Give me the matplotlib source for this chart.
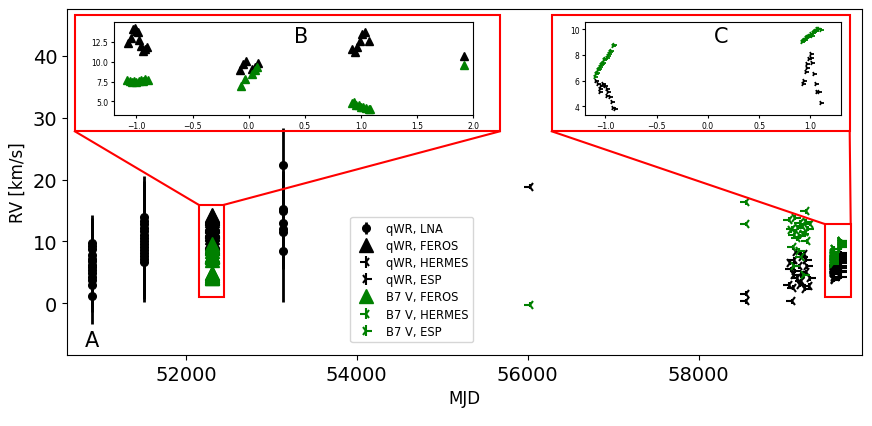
import matplotlib
matplotlib.use("Agg")
import matplotlib.pyplot as plt
from matplotlib.patches import Rectangle
import numpy as np

# ---------------- data ----------------
# LNA (qWR) : MJD, RV, error
lna_mjd = [50906]*14 + [51506]*15 + [53141]*7
lna_rv = [9.8, 9.3, 8.8, 7.8, 7.2, 6.8, 6.2, 5.8, 5.3, 4.8, 4.3, 3.8, 3.0, 1.1,
          14.0, 13.3, 12.8, 12.2, 11.6, 11.1, 10.6, 10.1, 9.6, 9.1, 8.6, 8.1, 7.6, 7.1, 6.6,
          22.4, 15.3, 14.9, 13.0, 12.0, 11.5, 8.5]
lna_err = [4.5]*14 + [6.5]*15 + [6.0, 6.0, 6.0, 6.0, 6.0, 6.0, 8.4]

# FEROS: phase (inset B) and RV
feros_T0, feros_P = 52306.0, 3.0
feros_q_phase = [-1.074, -1.045, -1.03, -1.015, -1.0, -0.985, -0.98, -0.955, -0.94, -0.926, -0.905,
                 -0.077, -0.048, -0.027, 0.027, 0.057, 0.086,
                 0.92, 0.95, 0.97, 0.994, 1.01, 1.04, 1.077, 1.917]
feros_q_rv = [12.4, 13.0, 14.1, 14.3, 13.9, 13.7, 12.75, 12.0, 11.4, 11.6, 11.8,
              8.9, 9.7, 10.1, 9.1, 9.3, 9.9,
              11.6, 11.2, 11.8, 12.6, 13.5, 13.7, 12.6, 10.7]
feros_b_phase = [-1.08, -1.06, -1.04, -1.02, -1.0, -0.98, -0.96, -0.94, -0.92, -0.9,
                 -0.071, -0.033, 0.027, 0.057, 0.077,
                 0.92, 0.94, 0.96, 0.98, 1.0, 1.02, 1.05, 1.07, 1.08, 1.917]
feros_b_rv = [7.7, 7.6, 7.5, 7.6, 7.5, 7.6, 7.7, 7.6, 7.8, 7.7,
              7.0, 7.8, 8.4, 8.9, 9.3,
              4.8, 4.9, 4.6, 4.5, 4.3, 4.3, 4.2, 4.0, 4.1, 9.6]

# HERMES
herm_q_mjd = [56023, 58550, 58550, 59060, 59080, 59100, 59120, 59150, 59170, 59200, 59230,
              59260, 59290, 59090, 59200]
herm_q_rv = [18.8, 1.5, 0.3, 3.0, 5.5, 2.5, 7.0, 4.0, 6.0, 3.5, 8.0, 5.0, 2.8, 0.3, 4.5]
herm_b_mjd = [56023, 58550, 58550, 59060, 59090, 59120, 59150, 59180, 59210, 59240, 59270,
              59300, 59100, 59200, 59260]
herm_b_rv = [-0.3, 16.3, 12.8, 13.5, 12.0, 11.0, 10.5, 13.0, 12.5, 11.5, 10.0, 12.8, 9.0, 7.5, 14.9]

# ESP (2020 season, MJD)
esp_q_mjd = [59070, 59110, 59140, 59180, 59210, 59240, 59270, 59300, 59130, 59250]
esp_q_rv = [6.5, 4.5, 8.3, 3.0, 7.5, 2.3, 6.0, 4.0, 5.2, 7.0]
esp_b_mjd = [59080, 59130, 59160, 59190, 59220, 59250, 59280, 59110, 59230, 59170]
esp_b_rv = [11.8, 13.8, 12.2, 10.8, 11.2, 13.2, 12.0, 6.0, 4.5, 8.5]

# ESP (2022 season, phase for inset C)
esp_T0, esp_P = 59620.0, 45.0
espC_q_phase = [-1.088, -1.072, -1.056, -1.056, -1.039, -1.023, -1.007, -0.990, -0.974, -0.984,
                -0.958, -0.941, -0.925, -0.908,
                1.003, 0.987, 0.971, 0.954, 0.938, 0.928, 1.02, 1.036, 1.052, 1.069, 1.085,
                1.101, 1.01, 0.964]
espC_q_rv = [6.0, 5.75, 5.35, 5.15, 5.6, 5.75, 5.55, 5.35, 5.1, 4.8,
             4.7, 4.3, 3.85, 3.8,
             8.1, 7.7, 7.3, 6.66, 6.0, 5.75, 7.4, 6.5, 5.75, 5.15, 5.1,
             4.26, 7.8, 7.0]
espC_b_phase = [-1.10, -1.09, -1.08, -1.07, -1.06, -1.05, -1.04, -1.03, -1.02, -1.01, -1.0,
                -0.99, -0.98, -0.97, -0.96, -0.95, -0.93, -0.92,
                0.92, 0.93, 0.94, 0.95, 0.96, 0.97, 0.98, 0.99, 1.0, 1.01, 1.02, 1.03,
                1.04, 1.05, 1.06, 1.07, 1.08, 1.09, 1.10]
espC_b_rv = [6.3, 6.5, 6.6, 6.8, 6.9, 7.1, 7.2, 7.3, 7.4, 7.6, 7.7,
             7.8, 7.9, 8.1, 8.2, 8.3, 8.7, 8.8,
             9.0, 9.1, 9.2, 9.2, 9.3, 9.4, 9.4, 9.5, 9.5, 9.6, 9.5, 9.7,
             9.8, 9.9, 9.9, 10.0, 10.0, 10.0, 9.95]

x_ticks = [52000, 54000, 56000, 58000]
y_ticks = [0, 10, 20, 30, 40]
legend_order = ['qWR, LNA', 'qWR, FEROS', 'qWR, HERMES', 'qWR, ESP',
                'B7 V, FEROS', 'B7 V, HERMES', 'B7 V, ESP']

# ---------------- figure ----------------
fig = plt.figure(figsize=(8.72, 4.27), dpi=100)
ax = fig.add_axes([67/872, 1-356/427, 795/872, 346/427])

K = 'black'
G = 'green'

feros_q_mjd = [feros_T0 + feros_P*p for p in feros_q_phase]
feros_b_mjd = [feros_T0 + feros_P*p for p in feros_b_phase]
espC_q_mjd = [esp_T0 + esp_P*p for p in espC_q_phase]
espC_b_mjd = [esp_T0 + esp_P*p for p in espC_b_phase]

ax.errorbar(lna_mjd, lna_rv, yerr=lna_err, fmt='o', color=K, ms=5.5, elinewidth=2,
            label='qWR, LNA')
ax.plot(feros_q_mjd, feros_q_rv, '^', color=K, ms=10, label='qWR, FEROS')
ax.errorbar(herm_q_mjd, herm_q_rv, yerr=0.4, fmt='3', color=K, ms=8, mew=1.5,
            elinewidth=1.5, label='qWR, HERMES')
ax.errorbar(esp_q_mjd + espC_q_mjd, esp_q_rv + espC_q_rv, yerr=0.4, fmt='4', color=K,
            ms=8, mew=1.5, elinewidth=1.5, label='qWR, ESP')
ax.plot(feros_b_mjd, feros_b_rv, '^', color=G, ms=10, label='B7 V, FEROS')
ax.errorbar(herm_b_mjd, herm_b_rv, yerr=0.4, fmt='3', color=G, ms=8, mew=1.5,
            elinewidth=1.5, label='B7 V, HERMES')
ax.errorbar(esp_b_mjd + espC_b_mjd, esp_b_rv + espC_b_rv, yerr=0.4, fmt='4', color=G,
            ms=8, mew=1.5, elinewidth=1.5, label='B7 V, ESP')

ax.set_xlim(50610, 59910)
ax.set_ylim(-8.4, 47.6)
ax.set_xticks(x_ticks)
ax.set_yticks(y_ticks)
ax.tick_params(labelsize=14)
ax.set_xlabel('MJD', fontsize=12)
ax.set_ylabel('RV [km/s]', fontsize=12)
ax.text(0.023, 0.025, 'A', transform=ax.transAxes, fontsize=15, ha='left', va='baseline')

handles, labels = ax.get_legend_handles_labels()
hmap = dict(zip(labels, handles))
ax.legend([hmap[l] for l in legend_order], legend_order,
          loc='lower left', bbox_to_anchor=(0.349, 0.02), fontsize=8.3, borderpad=0.4,
          labelspacing=0.36, handletextpad=0.7)

# zoom indicators (layout, in main-axes data coordinates)
def red_rect(x0, x1, y0, y1):
    ax.add_patch(Rectangle((x0, y0), x1-x0, y1-y0, fill=False, ec='red', lw=1.5,
                           clip_on=False, zorder=5))

red_rect(50702, 55673, 27.8, 46.6)
red_rect(52152, 52444, 1.0, 15.9)
ax.plot([50702, 52152], [27.8, 15.9], color='red', lw=1.5, zorder=5)
ax.plot([55673, 52444], [27.8, 15.9], color='red', lw=1.5, zorder=5)

red_rect(56281, 59766, 27.8, 46.6)
red_rect(59474, 59778, 1.0, 12.8)
ax.plot([56281, 59474], [27.8, 12.8], color='red', lw=1.5, zorder=5)
ax.plot([59766, 59778], [27.8, 12.8], color='red', lw=1.5, zorder=5)

# inset B
axB = fig.add_axes([114/872, 1-116/427, 359/872, 93/427])
axB.plot(feros_q_phase, feros_q_rv, '^', color=K, ms=5.5)
axB.plot(feros_b_phase, feros_b_rv, '^', color=G, ms=5.5)
axB.set_xlim(-1.2, 2.0)
axB.set_ylim(3.3, 15.0)
axB.set_yticks([5.0, 7.5, 10.0, 12.5])
axB.set_xticks([-1.0, -0.5, 0.0, 0.5, 1.0, 1.5, 2.0])
axB.tick_params(labelsize=5.5, length=2.5, pad=1.5)
axB.text(0.52, 0.85, 'B', transform=axB.transAxes, fontsize=15, ha='center', va='center')

# inset C
axC = fig.add_axes([585/872, 1-116/427, 256/872, 93/427])
axC.plot(espC_q_phase, espC_q_rv, '4', color=K, ms=4, mew=1.3)
axC.plot(espC_b_phase, espC_b_rv, '4', color=G, ms=4, mew=1.3)
axC.set_xlim(-1.2, 1.3)
axC.set_ylim(3.32, 10.57)
axC.set_yticks([4, 6, 8, 10])
axC.set_xticks([-1.0, -0.5, 0.0, 0.5, 1.0])
axC.tick_params(labelsize=5.5, length=2.5, pad=1.5)
axC.text(0.53, 0.85, 'C', transform=axC.transAxes, fontsize=15, ha='center', va='center')

fig.savefig('out.png', dpi=100)
